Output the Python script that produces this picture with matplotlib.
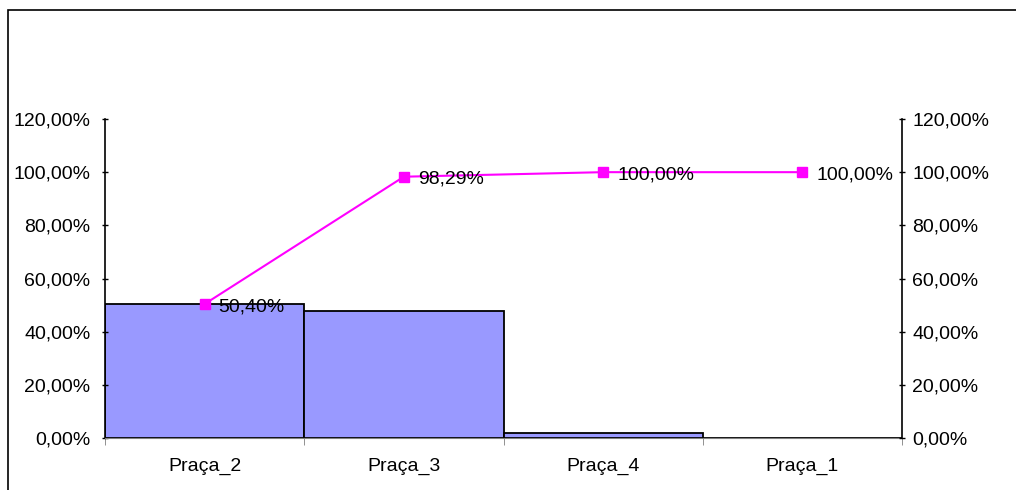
import matplotlib.pyplot as plt
from matplotlib.patches import Rectangle

plt.rcParams['font.family'] = ['Liberation Sans', 'DejaVu Sans']

pracas = ['Praça_2', 'Praça_3', 'Praça_4', 'Praça_1']
share = [50.40, 47.89, 1.71, 0.0]
cumulative = [50.40, 98.29, 100.00, 100.00]
ticks = [0, 20, 40, 60, 80, 100, 120]


def pct(v):
    return f'{v:.2f}'.replace('.', ',') + '%'


fig = plt.figure(figsize=(10.16, 4.9), dpi=100)

# outer chart frame (top and left edges visible)
fig.patches.append(Rectangle((8 / 1016, -0.1), 1.2, (480 / 490) + 0.1,
                             transform=fig.transFigure, fill=False,
                             edgecolor='black', linewidth=1.2))

ax = fig.add_axes([105 / 1016, 52 / 490, 797 / 1016, 319 / 490])
x = list(range(len(pracas)))

ax.bar(x, share, width=1.0, color='#9999FF', edgecolor='black', linewidth=1.3)
ax.set_xlim(-0.5, len(pracas) - 0.5)
ax.set_ylim(0, 120)
ax.set_yticks(ticks)
ax.set_yticklabels([pct(t) for t in ticks], fontsize=14)
ax.set_xticks(x)
ax.set_xticklabels(pracas, fontsize=14)
ax.set_xticks([i - 0.5 for i in range(len(pracas) + 1)], minor=True)
ax.tick_params(axis='x', which='major', length=0, pad=14)
ax.tick_params(axis='x', which='minor', length=5, direction='out', color='#808080')
ax.tick_params(axis='y', length=5, direction='inout', width=1, pad=8)
for side in ['top', 'right']:
    ax.spines[side].set_visible(False)
ax.spines['bottom'].set_color('#808080')
ax.spines['left'].set_linewidth(1.2)

ax2 = ax.twinx()
ax2.plot(x, cumulative, color='#FF00FF', linewidth=1.5, marker='s',
         markersize=7, markeredgecolor='#FF00FF', zorder=5)
ax2.set_ylim(0, 120)
ax2.set_yticks(ticks)
ax2.set_yticklabels([pct(t) for t in ticks], fontsize=14)
ax2.tick_params(axis='y', length=5, direction='inout', width=1, pad=5)
for side in ['top', 'left', 'bottom']:
    ax2.spines[side].set_visible(False)
ax2.spines['right'].set_linewidth(1.2)
ax2.set_xlim(-0.5, len(pracas) - 0.5)

for xi, v in zip(x, cumulative):
    ax2.annotate(pct(v), (xi, v), xytext=(10, -2), textcoords='offset points',
                 ha='left', va='center', fontsize=14, zorder=6)

fig.savefig('out.png', dpi=100)
